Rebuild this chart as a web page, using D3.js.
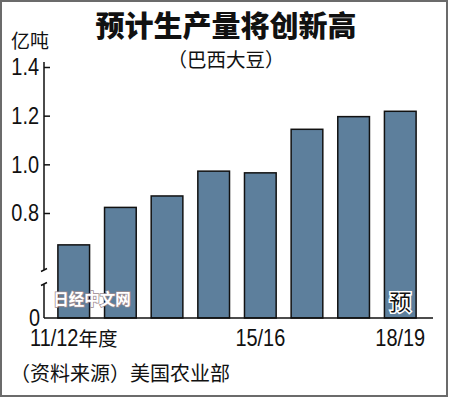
<!DOCTYPE html>
<html>
<head>
<meta charset="utf-8">
<script src="https://cdn.jsdelivr.net/npm/d3@7"></script>
<style>
  html, body { margin: 0; padding: 0; background: #fff; }
  svg { display: block; }
  .cjk { font-family: "Noto Sans CJK SC", sans-serif; }
  .num { font-family: "Liberation Sans", Arial, sans-serif; }
</style>
</head>
<body>
<svg id="Chart"></svg>
<script>
// Brazil soybean production, 100 million tonnes
const seasons = ['11/12', '12/13', '13/14', '14/15', '15/16', '16/17', '17/18', '18/19'];
const production = [0.669, 0.823, 0.870, 0.972, 0.965, 1.144, 1.196, 1.218];
const xLabels = ['11/12', '', '', '', '15/16', '', '', '18/19'];
const xSuffix = ['年度', '', '', '', '', '', '', ''];
const yTicks = [0.8, 1.0, 1.2, 1.4];
const forecastIndex = 7;

const width = 450, height = 398;
const baseY = 318;        // where the broken axis sits
const baseValue = 0.3685; // value at the broken baseline

// squeeze numerals to look like the condensed face in the original
function narrow(sel) {
  sel.each(function() {
    const w = this.getComputedTextLength();
    d3.select(this).attr('textLength', w * 0.83).attr('lengthAdjust', 'spacingAndGlyphs');
  });
}

const svg = d3.select('#Chart')
  .attr('width', width)
  .attr('height', height);

// frame
svg.append('rect')
  .attr('x', 1).attr('y', 1)
  .attr('width', 446).attr('height', 395)
  .attr('fill', '#fff')
  .attr('stroke', '#6b6b6b')
  .attr('stroke-width', 2);

const x = d3.scaleBand()
  .domain(seasons)
  .range([42.5, 431.5])
  .paddingInner(0.321)
  .paddingOuter(0.33);

const y = d3.scaleLinear()
  .domain([baseValue, 1.4])
  .range([baseY, 67]);

// bars
svg.selectAll('.bar')
  .data(production)
  .enter().append('rect')
  .attr('class', 'bar')
  .attr('x', (d, i) => x(seasons[i]))
  .attr('width', x.bandwidth())
  .attr('y', d => y(d))
  .attr('height', d => baseY - y(d))
  .attr('fill', '#5d7f9c')
  .attr('stroke', '#111')
  .attr('stroke-width', 1.5);

// y axis (ticks point inward, domain drawn by hand because of the break)
const yAxis = svg.append('g')
  .attr('transform', 'translate(44,0)')
  .call(d3.axisLeft(y).tickValues(yTicks).tickFormat(d3.format('.1f'))
    .tickSizeInner(-6).tickSizeOuter(0).tickPadding(5));
yAxis.select('.domain').remove();
yAxis.selectAll('line').attr('stroke', '#111').attr('stroke-width', 1.5);
yAxis.selectAll('text')
  .attr('class', 'num')
  .attr('font-size', 24)
  .attr('fill', '#111')
  .call(narrow);

const axisX = 44;
const breakTop = baseY - 48, breakBottom = baseY - 34;
svg.append('path')
  .attr('d', `M${axisX},${y(1.4) - 5}V${breakTop}M${axisX - 3},${breakTop + 1.5}L${axisX + 3},${breakTop - 1.5}` +
             `M${axisX},${baseY}V${breakBottom}M${axisX - 3},${breakBottom + 1.5}L${axisX + 3},${breakBottom - 1.5}`)
  .attr('fill', 'none')
  .attr('stroke', '#111')
  .attr('stroke-width', 1.5);

svg.append('text')
  .attr('class', 'num')
  .attr('x', axisX - 4)
  .attr('y', baseY)
  .attr('dy', '0.34em')
  .attr('text-anchor', 'end')
  .attr('font-size', 24)
  .attr('fill', '#111')
  .text('0')
  .call(narrow);

// baseline
svg.append('line')
  .attr('x1', axisX).attr('x2', 433)
  .attr('y1', baseY).attr('y2', baseY)
  .attr('stroke', '#111')
  .attr('stroke-width', 1.5);

// x labels: condensed numerals, optional CJK suffix, centred together under the bar
xLabels.forEach((lab, i) => {
  if (!lab) return;
  const cx = x(seasons[i]) + x.bandwidth() / 2;
  const num = svg.append('text')
    .attr('class', 'num')
    .attr('y', 346)
    .attr('font-size', 24)
    .attr('fill', '#111')
    .text(lab)
    .call(narrow);
  const numW = +num.attr('textLength');
  let sufW = 0, suf = null;
  if (xSuffix[i]) {
    suf = svg.append('text')
      .attr('class', 'cjk')
      .attr('y', 346)
      .attr('font-size', 19.5)
      .attr('fill', '#111')
      .text(xSuffix[i]);
    sufW = suf.node().getComputedTextLength();
  }
  const x0 = cx - (numW + sufW) / 2;
  num.attr('x', x0);
  if (suf) suf.attr('x', x0 + numW);
});

// forecast mark
svg.append('text')
  .attr('class', 'cjk')
  .attr('x', x(seasons[forecastIndex]) + x.bandwidth() / 2)
  .attr('y', 310)
  .attr('text-anchor', 'middle')
  .attr('font-size', 22)
  .attr('fill', '#111')
  .attr('stroke', '#fff')
  .attr('stroke-width', 3)
  .attr('paint-order', 'stroke')
  .text('预');

// watermark
svg.append('text')
  .attr('class', 'cjk')
  .attr('x', 92)
  .attr('y', 305)
  .attr('text-anchor', 'middle')
  .attr('font-size', 15.5)
  .attr('font-weight', 'bold')
  .attr('fill', '#fff')
  .attr('stroke', '#9a8a90')
  .attr('stroke-width', 1.5)
  .attr('paint-order', 'stroke')
  .text('日经中文网');

// titles
svg.append('text')
  .attr('class', 'cjk')
  .attr('x', 226)
  .attr('y', 37)
  .attr('text-anchor', 'middle')
  .attr('font-size', 29)
  .attr('font-weight', 900)
  .attr('fill', '#111')
  .text('预计生产量将创新高');

svg.append('text')
  .attr('class', 'cjk')
  .attr('x', 226)
  .attr('y', 67)
  .attr('text-anchor', 'middle')
  .attr('font-size', 19.5)
  .attr('fill', '#111')
  .text('（巴西大豆）');

svg.append('text')
  .attr('class', 'cjk')
  .attr('x', 11)
  .attr('y', 48)
  .attr('font-size', 19)
  .attr('fill', '#111')
  .text('亿吨');

svg.append('text')
  .attr('class', 'cjk')
  .attr('x', 10)
  .attr('y', 381)
  .attr('font-size', 20)
  .attr('fill', '#111')
  .text('（资料来源）美国农业部');
</script>
</body>
</html>
